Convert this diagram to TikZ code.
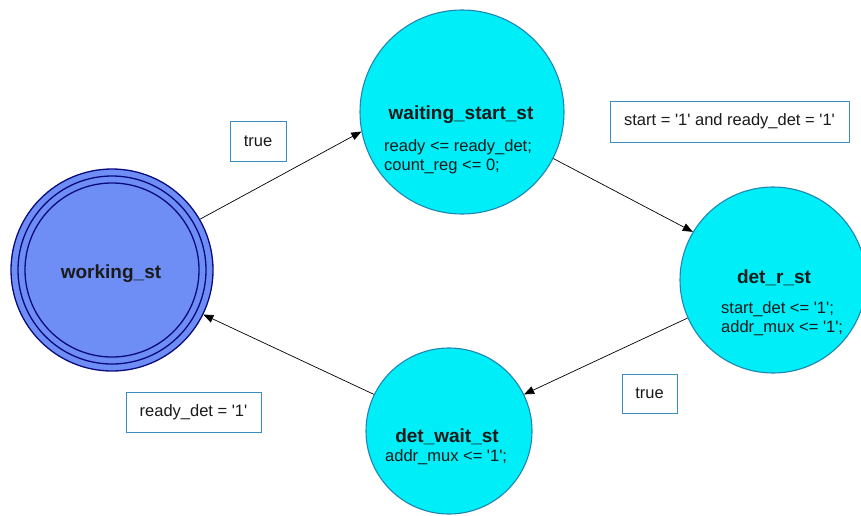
\documentclass[tikz,border=0pt]{standalone}
\usepackage{fontspec}
\setmainfont{Liberation Sans}
\usetikzlibrary{arrows.meta}

\definecolor{stfill}{HTML}{00EEF8}
\definecolor{stedge}{HTML}{1F86B4}
\definecolor{workfill}{HTML}{6E8EF5}
\definecolor{workring}{HTML}{0A0A80}
\definecolor{guardedge}{HTML}{3A8DBE}
\definecolor{ink}{HTML}{1A1A1A}

% straight single quote around VHDL bit literals
\newcommand\bitq[1]{\textquotesingle#1\textquotesingle}

\begin{document}
\begin{tikzpicture}[x=1pt,y=-1pt,
  state/.style={circle, draw=stedge, fill=stfill, line width=1.1pt, inner sep=0pt, minimum size=#1},
  ring/.style={circle, draw=workring, line width=1.3pt, inner sep=0pt, minimum size=#1},
  title/.style={inner sep=0pt, anchor=base, text=ink, font=\fontsize{19}{23}\selectfont\bfseries},
  action/.style={inner sep=0pt, anchor=base west, text=ink, font=\fontsize{16.5}{19}\selectfont},
  guard/.style={draw=guardedge, line width=0.9pt, fill=white, text=ink, inner sep=0pt,
    font=\fontsize{16.5}{19}\selectfont},
  trans/.style={draw=black, line width=0.7pt, -{Triangle[length=10pt,width=8pt]}}]

\useasboundingbox (0,0) rectangle (861,516);
\clip (0,0) rectangle (861,516);
\fill[white] (0,0) rectangle (861,516);

% working_st: triple-ringed initial state
\node[ring=202, fill=workfill] (work) at (112,270) {};
\node[ring=188] (workmid) at (112,270) {};
\node[ring=174] (workin) at (112,270) {};
\node[title] (worklbl) at (111,278) {working\_st};

% waiting_start_st
\node[state=204] (wait) at (462,112) {};
\node[title] (waitlbl) at (461,119) {waiting\_start\_st};
\node[action] (waita) at (384,151) {ready <= ready\_det;};
\node[action] (waitb) at (384,170) {count\_reg <= 0;};

% det_r_st
\node[state=186] (detr) at (773,280) {};
\node[title] (detrlbl) at (774,283) {det\_r\_st};
\node[action] (detra) at (721,313) {start\_det <= \bitq{1};};
\node[action] (detrb) at (721,332) {addr\_mux <= \bitq{1};};

% det_wait_st
\node[state=166] (detw) at (449,431) {};
\node[title] (detwlbl) at (447,442) {det\_wait\_st};
\node[action] (detwa) at (385,461) {addr\_mux <= \bitq{1};};

% transitions
\draw[trans] (work.30) -- (wait.191);
\draw[trans] (wait.-27) -- (detr.149);
\draw[trans] (detr.204) -- (detw.26);
\draw[trans] (detw.154) -- (work.-26);

% guard conditions
\node[guard, minimum width=56pt, minimum height=40pt] (g1) at (258,141) {true};
\node[guard, minimum width=239pt, minimum height=41pt] (g2) at (729.5,121.5) {start = \bitq{1} and ready\_det = \bitq{1}};
\node[guard, minimum width=55pt, minimum height=39pt] (g3) at (649.5,393.5) {true};
\node[guard, minimum width=135pt, minimum height=40pt] (g4) at (193.5,412) {ready\_det = \bitq{1}};
\end{tikzpicture}
\end{document}
